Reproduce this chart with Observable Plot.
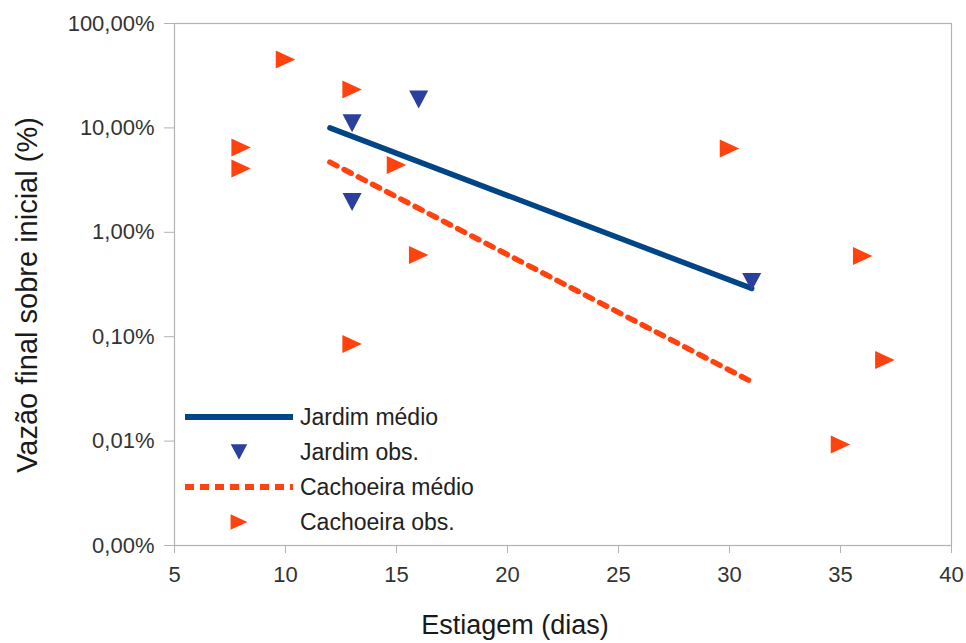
<!DOCTYPE html>
<html>
<head>
<meta charset="utf-8">
<script src="https://cdn.jsdelivr.net/npm/d3@7"></script>
<script src="https://cdn.jsdelivr.net/npm/@observablehq/plot@0.6"></script>
<style>
  html, body { margin: 0; padding: 0; background: #fff; }
</style>
</head>
<body>
<div id="chart"></div>
<script>
// ---- Data ----
const jardimObsDias = [13, 16, 13, 31];
const jardimObsVazao = [11.1, 18.7, 1.95, 0.334];          // %
const cachoeiraObsDias = [10, 13, 8, 8, 15, 16, 13, 30, 36, 37, 35];
const cachoeiraObsVazao = [45.2, 23.3, 6.5, 4.08, 4.42, 0.607, 0.085, 6.35, 0.593, 0.0598, 0.00927]; // %
const jardimMedioDias = [12, 31];
const jardimMedioVazao = [10.0, 0.29];                      // %
const cachoeiraMedioDias = [12, 31];
const cachoeiraMedioVazao = [4.7, 0.037];                   // %

const xTicks = [5, 10, 15, 20, 25, 30, 35, 40];
const yTicks = [100, 10, 1, 0.1, 0.01, 0.001];
const yTickLabels = ["100,00%", "10,00%", "1,00%", "0,10%", "0,01%", "0,00%"];

const seriesNames = ["Jardim médio", "Jardim obs.", "Cachoeira médio", "Cachoeira obs."];
const xTitle = "Estiagem (dias)";
const yTitle = "Vazão final sobre inicial (%)";

// ---- Tables built from the arrays ----
const zip = (xs, ys) => xs.map((x, i) => ({x, y: ys[i]}));
const jardimObs = zip(jardimObsDias, jardimObsVazao);
const cachoeiraObs = zip(cachoeiraObsDias, cachoeiraObsVazao);
const jardimMedio = zip(jardimMedioDias, jardimMedioVazao);
const cachoeiraMedio = zip(cachoeiraMedioDias, cachoeiraMedioVazao);

const C_JM = "#004586", C_JO = "#2b3f9c", C_CM = "#ff420e", C_CO = "#ff420e";
const AXIS = "#b3b3b3", TXT = "#333333";

// custom triangle symbols, centred on their bounding box
const triDown = {draw(ctx, size) { const r = Math.sqrt(size / Math.PI); const h = r * 1.2, w = r * 1.27;
  ctx.moveTo(-w, -h); ctx.lineTo(w, -h); ctx.lineTo(0, h); ctx.closePath(); }};
const triRight = {draw(ctx, size) { const r = Math.sqrt(size / Math.PI); const h = r * 1.2, w = r * 1.3;
  ctx.moveTo(-w, -h); ctx.lineTo(w, 0); ctx.lineTo(-w, h); ctx.closePath(); }};

const yFmt = d => { const i = yTicks.findIndex(t => Math.abs(Math.log10(t) - Math.log10(d)) < 1e-6); return i >= 0 ? yTickLabels[i] : ""; };

const chart = Plot.plot({
  width: 966,
  height: 643,
  marginLeft: 174,
  marginRight: 15,
  marginTop: 23,
  marginBottom: 98,
  style: {fontFamily: "'Liberation Sans', Arial, sans-serif", fontSize: "22px", background: "#fff", color: TXT},
  x: {domain: [5, 40], axis: null},
  y: {type: "log", domain: [0.001, 100], axis: null},
  marks: [
    Plot.frame({stroke: AXIS, strokeWidth: 1.2}),
    Plot.axisX({ticks: xTicks, tickSize: 8, tickPadding: 13, stroke: AXIS, fill: TXT, fontSize: 22, label: null, tickFormat: d => String(d)}),
    Plot.axisY({ticks: yTicks, tickSize: 10, tickPadding: 10, stroke: AXIS, fill: TXT, fontSize: 22, label: null, tickFormat: yFmt}),
    Plot.line(jardimMedio, {x: "x", y: "y", stroke: C_JM, strokeWidth: 5.5}),
    Plot.line(cachoeiraMedio, {x: "x", y: "y", stroke: C_CM, strokeWidth: 5.5, strokeDasharray: "8,8"}),
    Plot.dot(jardimObs, {x: "x", y: "y", symbol: triDown, r: 7.5, fill: C_JO, stroke: "none"}),
    Plot.dot(cachoeiraObs, {x: "x", y: "y", symbol: triRight, r: 7.5, fill: C_CO, stroke: "none"})
  ]
});

const svg = d3.select(chart);

// axis titles
svg.append("text")
  .attr("transform", "translate(37,295) rotate(-90)")
  .attr("text-anchor", "middle")
  .attr("font-size", 29)
  .attr("fill", "#1a1a1a")
  .text(yTitle);
svg.append("text")
  .attr("x", 515).attr("y", 634)
  .attr("text-anchor", "middle")
  .attr("font-size", 27)
  .attr("fill", "#1a1a1a")
  .text(xTitle);

// legend (inside the plot area, lower left)
const lg = svg.append("g").attr("font-size", 23).attr("fill", "#222").attr("text-anchor", "start");
const rowY = [417, 452, 487, 522];
lg.append("line").attr("x1", 185).attr("x2", 293).attr("y1", rowY[0]).attr("y2", rowY[0])
  .attr("stroke", C_JM).attr("stroke-width", 6);
lg.append("path").attr("transform", `translate(239,${rowY[1]})`)
  .attr("d", d3.symbol(triDown, 7.5 * 7.5 * Math.PI * 0.75)()).attr("fill", C_JO);
lg.append("line").attr("x1", 185).attr("x2", 293).attr("y1", rowY[2]).attr("y2", rowY[2])
  .attr("stroke", C_CM).attr("stroke-width", 6).attr("stroke-dasharray", "9,6");
lg.append("path").attr("transform", `translate(239,${rowY[3]})`)
  .attr("d", d3.symbol(triRight, 7.5 * 7.5 * Math.PI * 0.75)()).attr("fill", C_CO);
seriesNames.forEach((name, i) => {
  lg.append("text").attr("x", 300).attr("y", rowY[i] + 8).attr("text-anchor", "start").text(name);
});

document.getElementById("chart").appendChild(chart);
</script>
</body>
</html>
